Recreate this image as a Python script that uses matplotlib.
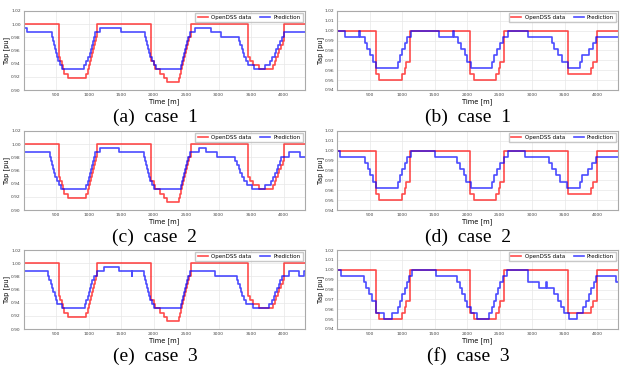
import numpy as np
import matplotlib
matplotlib.use("Agg")
import matplotlib.pyplot as plt

# tap positions: 0 -> 1.0 pu, each step is 0.00625 pu
TAP_STEP = 0.00625
T_END = 4320

# OpenDSS data (same in every case)
red_left_t = [0, 540, 565, 590, 610, 630, 690, 964, 985, 1000, 1016, 1031, 1047, 1062, 1077, 1092, 1110, 1129,
              1965, 2001, 2027, 2093, 2155, 2206, 2386, 2401, 2417, 2432, 2448, 2463, 2479, 2494, 2510, 2525, 2545, 2575,
              3448, 3478, 3530, 3617, 3838, 3859, 3884, 3910, 3935, 3961, 3982, 4002]
red_left_p = [0, -8, -9, -10, -11, -12, -13, -12, -11, -10, -9, -8, -7, -6, -5, -4, -3, 0,
              -9, -10, -11, -12, -13, -14, -13, -12, -11, -10, -9, -8, -7, -6, -5, -4, -3, 0,
              -8, -9, -10, -11, -10, -9, -8, -7, -6, -5, -4, 0]

red_right_t = [0, 602, 643, 1003, 1039, 1065, 1116, 2052, 2108, 2448, 2484, 2510, 2561, 3549, 3898, 3935, 3996]
red_right_p = [0, -7, -8, -7, -6, -5, 0, -7, -8, -7, -6, -5, 0, -7, -6, -5, 0]

# Predictions
blue_a_t = [0, 51, 436, 451, 467, 482, 498, 513, 534, 564, 595, 934, 965, 990, 1016, 1036, 1052, 1067, 1083, 1098, 1180,
            1498, 1873, 1888, 1904, 1919, 1934, 1950, 1970, 2001, 2032, 2427, 2442, 2458, 2473, 2489, 2504, 2520, 2535, 2555, 2642,
            2883, 3037, 3314, 3335, 3355, 3376, 3396, 3417, 3448, 3540, 3720, 3787, 3823, 3859, 3889, 3920, 3950, 3976, 4012]
blue_a_p = [-1, -2, -3, -4, -5, -6, -7, -8, -9, -10, -11, -10, -9, -8, -7, -6, -5, -4, -3, -2, -1,
            -2, -3, -4, -5, -6, -7, -8, -9, -10, -11, -10, -9, -8, -7, -6, -5, -4, -3, -2, -1,
            -2, -3, -4, -5, -6, -7, -8, -9, -10, -11, -10, -9, -8, -7, -6, -5, -4, -3, -2]

blue_b_t = [0, 118, 345, 355, 427, 463, 514, 550, 602, 939, 967, 1003, 1044, 1080, 1142,
            1569, 1785, 1795, 1867, 1913, 1965, 2006, 2057, 2381, 2412, 2453, 2499, 2546, 2623,
            2931, 3301, 3343, 3405, 3456, 3549, 3729, 3765, 3867, 3935, 3986]
blue_b_p = [0, -1, 0, -1, -2, -3, -4, -5, -6, -5, -4, -3, -2, -1, 0,
            -1, 0, -1, -2, -3, -4, -5, -6, -5, -4, -3, -2, -1, 0,
            -1, -2, -3, -4, -5, -6, -5, -4, -3, -2, -1]

blue_c_t = [0, 400, 416, 431, 447, 467, 488, 508, 539, 575, 965, 985, 1000, 1016, 1031, 1047, 1062, 1083, 1103, 1170,
            1462, 1847, 1862, 1878, 1893, 1909, 1929, 1950, 1970, 2001, 2417, 2432, 2448, 2463, 2479, 2494, 2514, 2535, 2565, 2694,
            2806, 2976, 3258, 3283, 3308, 3333, 3358, 3383, 3438, 3514, 3720, 3800, 3835, 3865, 3890, 3915, 3940, 3965, 4000, 4079, 4258]
blue_c_p = [-2, -3, -4, -5, -6, -7, -8, -9, -10, -11, -10, -9, -8, -7, -6, -5, -4, -3, -2, -1,
            -2, -3, -4, -5, -6, -7, -8, -9, -10, -11, -10, -9, -8, -7, -6, -5, -4, -3, -2, -1,
            -2, -3, -4, -5, -6, -7, -8, -9, -10, -11, -10, -9, -8, -7, -6, -5, -4, -3, -3, -2, -3]

blue_d_t = [0, 51, 427, 473, 514, 550, 602, 939, 967, 1003, 1044, 1080, 1131,
            1507, 1852, 1893, 1945, 1981, 2057, 2381, 2412, 2453, 2499, 2561, 2623,
            2895, 3260, 3301, 3368, 3435, 3533, 3729, 3765, 3857, 3925, 3986]
blue_d_p = [0, -1, -2, -3, -4, -5, -6, -5, -4, -3, -2, -1, 0,
            -1, -2, -3, -4, -5, -6, -5, -4, -3, -2, -1, 0,
            -1, -2, -3, -4, -5, -6, -5, -4, -3, -2, -1]

blue_e_t = [0, 375, 396, 416, 437, 457, 478, 498, 519, 590, 950, 965, 985, 1006, 1021, 1036, 1057, 1083, 1129, 1242,
            1462, 1665, 1672, 1847, 1862, 1878, 1893, 1909, 1929, 1950, 1970, 2001, 2417, 2432, 2448, 2463, 2479, 2494, 2514, 2535, 2565,
            2950, 3284, 3304, 3325, 3345, 3366, 3386, 3422, 3530, 3772, 3823, 3848, 3874, 3899, 3925, 3950, 3976, 4079, 4233, 4305]
blue_e_p = [-2, -3, -4, -5, -6, -7, -8, -9, -10, -11, -10, -9, -8, -7, -6, -5, -4, -3, -2, -1,
            -2, -3, -2, -3, -4, -5, -6, -7, -8, -9, -10, -11, -10, -9, -8, -7, -6, -5, -4, -3, -2,
            -3, -4, -5, -6, -7, -8, -9, -10, -11, -10, -9, -8, -7, -6, -5, -4, -3, -2, -3, -2]

blue_f_t = [0, 67, 422, 453, 494, 545, 602, 730, 849, 939, 970, 1003, 1044, 1070, 1106, 1157,
            1528, 1852, 1888, 1929, 1965, 2006, 2057, 2145, 2340, 2381, 2407, 2443, 2479, 2510, 2556, 2612,
            2931, 3111, 3220, 3230, 3343, 3394, 3446, 3497, 3574, 3687, 3780, 3821, 3867, 3909, 3950, 3986, 4037, 4294]
blue_f_p = [0, -1, -2, -3, -4, -5, -7, -8, -7, -6, -5, -4, -3, -2, -1, 0,
            -1, -2, -3, -4, -5, -6, -7, -8, -7, -6, -5, -4, -3, -2, -1, 0,
            -2, -3, -2, -3, -4, -5, -6, -7, -8, -7, -6, -5, -4, -3, -2, -1, -1, -2]

captions = ["(a)  case  1", "(b)  case  1", "(c)  case  2", "(d)  case  2", "(e)  case  3", "(f)  case  3"]

W, H = 628, 373
fig = plt.figure(figsize=(W / 100, H / 100), dpi=100)

rows_top = [11, 131, 250]
cols_left = [23.5, 337]
ax_w, ax_h = 281, 79


def taps(p):
    return 1.0 + TAP_STEP * np.array(p)


def draw(ax, rt, rp, bt, bp, right):
    ax.step(list(rt) + [T_END], list(taps(rp)) + [taps(rp)[-1]], where="post",
            color="red", alpha=0.7, lw=1.2, label="OpenDSS data")
    ax.step(list(bt) + [T_END], list(taps(bp)) + [taps(bp)[-1]], where="post",
            color="blue", alpha=0.7, lw=1.2, label="Prediction")
    ax.set_xlim(0, T_END)
    if right:
        ax.set_ylim(0.94, 1.02)
        ax.set_yticks(np.arange(0.94, 1.0201, 0.01))
    else:
        ax.set_ylim(0.90, 1.02)
        ax.set_yticks(np.arange(0.90, 1.0201, 0.02))
    ax.set_xticks(range(500, 4001, 500))
    ax.yaxis.set_major_formatter(matplotlib.ticker.FormatStrFormatter("%.2f"))
    ax.tick_params(labelsize=3.2, length=0, pad=2, colors="#444444")
    ax.grid(True, color="#e8e8e8", lw=0.5)
    ax.set_axisbelow(True)
    for s in ax.spines.values():
        s.set_color("#aaaaaa")
        s.set_linewidth(0.8)
    ax.set_xlabel("Time [m]", fontsize=4.8, labelpad=1)
    ax.set_ylabel("Tap [pu]", fontsize=4.8, labelpad=0.5)
    ax.legend(loc="upper right", ncol=2, fontsize=4, frameon=True, fancybox=False,
              edgecolor="#bbbbbb", handlelength=1.8, columnspacing=1.6,
              borderpad=0.4, handletextpad=0.6, borderaxespad=0.3)


series = [
    (red_left_t, red_left_p, blue_a_t, blue_a_p, False),
    (red_right_t, red_right_p, blue_b_t, blue_b_p, True),
    (red_left_t, red_left_p, blue_c_t, blue_c_p, False),
    (red_right_t, red_right_p, blue_d_t, blue_d_p, True),
    (red_left_t, red_left_p, blue_e_t, blue_e_p, False),
    (red_right_t, red_right_p, blue_f_t, blue_f_p, True),
]

for i, (rt, rp, bt, bp, right) in enumerate(series):
    r, c = divmod(i, 2)
    top = rows_top[r]
    left = cols_left[c]
    ax = fig.add_axes([left / W, 1 - (top + ax_h) / H, ax_w / W, ax_h / H])
    draw(ax, rt, rp, bt, bp, right)
    cx = [155, 468][c]
    cy = top + 106
    fig.text(cx / W, 1 - cy / H, captions[i], ha="center", va="center",
             fontsize=14, family="Liberation Serif")

fig.savefig("out.png", dpi=100)
